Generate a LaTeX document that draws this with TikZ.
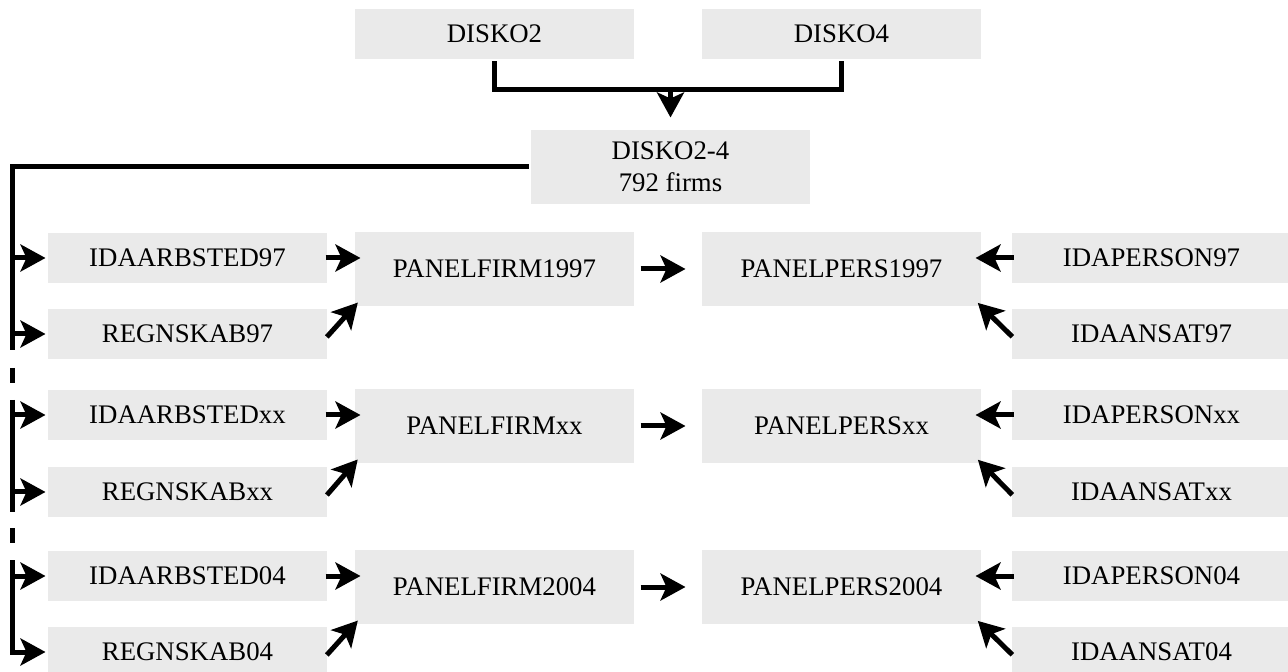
\documentclass[tikz,border=0pt]{standalone}
\usepackage{fontspec}
\setmainfont{Liberation Serif}
\usepackage{tikz}
\usetikzlibrary{arrows.meta}
\definecolor{boxgray}{RGB}{234,234,234}
\tikzset{
 >={Stealth[length=12.5pt,width=13.5pt,inset=3pt]},
 table/.style={shape=rectangle,fill=boxgray,minimum width=139.5pt,minimum height=25pt,inner sep=0pt,
   font=\fontsize{13.4}{16.2}\selectfont},
 panel/.style={table,minimum height=37pt},
 feed/.style={shorten <=-2pt,shorten >=-4pt},
 flow/.style={shorten <=2pt,shorten >=7pt}
}

\begin{document}
\begin{tikzpicture}[x=0.5pt,y=-0.5pt,line width=2.5pt]
\useasboundingbox (0,0) rectangle (1288,672);
\clip (0,0) rectangle (1288,672);

\path (494.5,34) node[table,name=disko2] {DISKO2};
\path (841.5,34) node[table,name=disko4] {DISKO4};
\path (670.5,167) node[panel,align=center,name=disko24] {DISKO2-4\\792 firms};
\path (670.5,90) coordinate[name=join];

\path (187.5,258) node[table,name=idaarbsted97] {IDAARBSTED97};
\path (187.5,334) node[table,name=regnskab97] {REGNSKAB97};
\path (494.5,269) node[panel,name=panelfirm97] {PANELFIRM1997};
\path (841.5,269) node[panel,name=panelpers97] {PANELPERS1997};
\path (1151.5,258) node[table,name=idaperson97] {IDAPERSON97};
\path (1151.5,334) node[table,name=idaansat97] {IDAANSAT97};

\path (187.5,415) node[table,name=idaarbstedxx] {IDAARBSTEDxx};
\path (187.5,492) node[table,name=regnskabxx] {REGNSKABxx};
\path (494.5,426) node[panel,name=panelfirmxx] {PANELFIRMxx};
\path (841.5,426) node[panel,name=panelpersxx] {PANELPERSxx};
\path (1151.5,415) node[table,name=idapersonxx] {IDAPERSONxx};
\path (1151.5,492) node[table,name=idaansatxx] {IDAANSATxx};

\path (187.5,576) node[table,name=idaarbsted04] {IDAARBSTED04};
\path (187.5,652) node[table,name=regnskab04] {REGNSKAB04};
\path (494.5,587) node[panel,name=panelfirm04] {PANELFIRM2004};
\path (841.5,587) node[panel,name=panelpers04] {PANELPERS2004};
\path (1151.5,576) node[table,name=idaperson04] {IDAPERSON04};
\path (1151.5,652) node[table,name=idaansat04] {IDAANSAT04};

\path (12,350) coordinate[name=cut1a];
\path (12,368) coordinate[name=dash1a];
\path (12,383) coordinate[name=dash1b];
\path (12,400) coordinate[name=cut1b];
\path (12,512) coordinate[name=cut2a];
\path (12,528) coordinate[name=dash2a];
\path (12,543) coordinate[name=dash2b];
\path (12,560) coordinate[name=cut2b];

\draw (disko2.south) |- (join) -| (disko4.south);
\path[->,shorten >=5pt] (join) edge (disko24);

\draw (disko24.west) -| (cut1a);
\draw (dash1a) -- (dash1b);
\draw (cut1b) -- (cut2a);
\draw (dash2a) -- (dash2b);
\draw[->] (cut2b) |- (regnskab04.west);

\path[->] (idaarbsted97.west -| cut1a) edge (idaarbsted97.west);
\path[->] (regnskab97.west -| cut1a) edge (regnskab97.west);
\path[->] (idaarbstedxx.west -| cut1a) edge (idaarbstedxx.west);
\path[->] (regnskabxx.west -| cut1a) edge (regnskabxx.west);
\path[->] (idaarbsted04.west -| cut1a) edge (idaarbsted04.west);

\path[->,feed] (idaarbsted97.east) edge (idaarbsted97.east -| panelfirm97.west);
\path[->,feed] (regnskab97.east) edge (panelfirm97.south west);
\path[->,flow] (panelfirm97) edge (panelpers97);
\path[->,feed] (idaperson97.west) edge (idaperson97.west -| panelpers97.east);
\path[->,feed] (idaansat97.west) edge (panelpers97.south east);

\path[->,feed] (idaarbstedxx.east) edge (idaarbstedxx.east -| panelfirmxx.west);
\path[->,feed] (regnskabxx.east) edge (panelfirmxx.south west);
\path[->,flow] (panelfirmxx) edge (panelpersxx);
\path[->,feed] (idapersonxx.west) edge (idapersonxx.west -| panelpersxx.east);
\path[->,feed] (idaansatxx.west) edge (panelpersxx.south east);

\path[->,feed] (idaarbsted04.east) edge (idaarbsted04.east -| panelfirm04.west);
\path[->,feed] (regnskab04.east) edge (panelfirm04.south west);
\path[->,flow] (panelfirm04) edge (panelpers04);
\path[->,feed] (idaperson04.west) edge (idaperson04.west -| panelpers04.east);
\path[->,feed] (idaansat04.west) edge (panelpers04.south east);
\end{tikzpicture}
\end{document}
